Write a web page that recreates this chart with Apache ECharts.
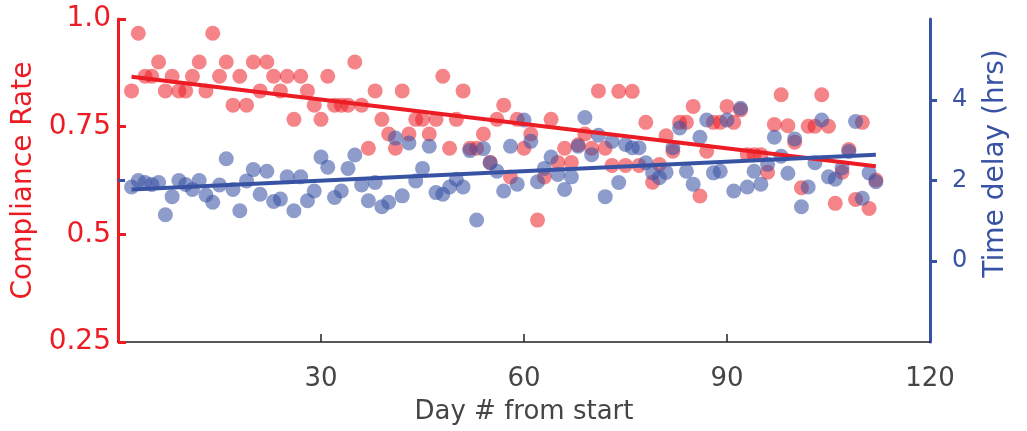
<!DOCTYPE html>
<html>
<head>
<meta charset="utf-8">
<script src="https://cdn.jsdelivr.net/npm/echarts@6/dist/echarts.min.js"></script>
<style>
  html, body { margin: 0; padding: 0; background: #fff; }
  #chart { width: 1027px; height: 431px; }
</style>
</head>
<body>
<div id="chart"></div>
<script>
// Day number of each observation
const days = [
  2, 3, 4, 5, 6, 7, 8, 9, 10, 11, 12, 13, 14, 15, 16, 17, 18, 19, 20, 21,
  22, 23, 24, 25, 26, 27, 28, 29, 30, 31, 32, 33, 34, 35, 36, 37, 38, 39, 40, 41,
  42, 43, 44, 45, 46, 47, 48, 49, 50, 51, 52, 53, 54, 55, 56, 57, 58, 59, 60, 61,
  62, 63, 64, 65, 66, 67, 68, 69, 70, 71, 72, 73, 74, 75, 76, 77, 78, 79, 80, 81,
  82, 83, 84, 85, 86, 87, 88, 89, 90, 91, 92, 93, 94, 95, 96, 97, 98, 99, 100, 101,
  102, 103, 104, 105, 106, 107, 108, 109, 110, 111, 112
];

// Daily compliance rate (left axis)
const compliance = [
  0.833, 0.967, 0.867, 0.867, 0.900, 0.833, 0.867, 0.833, 0.833, 0.867,
  0.900, 0.833, 0.967, 0.867, 0.900, 0.800, 0.867, 0.800, 0.900, 0.833,
  0.900, 0.867, 0.833, 0.867, 0.767, 0.867, 0.833, 0.800, 0.767, 0.867,
  0.800, 0.800, 0.800, 0.900, 0.800, 0.700, 0.833, 0.767, 0.733, 0.700,
  0.833, 0.733, 0.767, 0.767, 0.733, 0.767, 0.867, 0.700, 0.767, 0.833,
  0.700, 0.700, 0.733, 0.667, 0.767, 0.800, 0.633, 0.767, 0.700, 0.733,
  0.533, 0.633, 0.767, 0.667, 0.700, 0.667, 0.708, 0.733, 0.700, 0.833,
  0.700, 0.660, 0.832, 0.660, 0.832, 0.660, 0.760, 0.621, 0.662, 0.729,
  0.693, 0.760, 0.760, 0.797, 0.589, 0.693, 0.760, 0.760, 0.797, 0.760,
  0.789, 0.685, 0.685, 0.685, 0.644, 0.755, 0.824, 0.752, 0.714, 0.608,
  0.751, 0.751, 0.824, 0.751, 0.572, 0.644, 0.697, 0.581, 0.760, 0.560,
  0.626
];

// Daily time delay in hours (right axis)
const delay = [
  1.84, 2.00, 1.95, 1.90, 1.95, 1.15, 1.60, 2.00, 1.90, 1.78,
  2.00, 1.64, 1.46, 1.89, 2.54, 1.78, 1.25, 1.99, 2.27, 1.66,
  2.23, 1.48, 1.54, 2.09, 1.25, 2.09, 1.50, 1.74, 2.58, 2.33,
  1.58, 1.74, 2.30, 2.63, 1.89, 1.50, 1.95, 1.35, 1.46, 3.05,
  1.62, 2.93, 1.99, 2.30, 2.85, 1.70, 1.66, 1.84, 2.03, 1.84,
  2.74, 1.02, 2.79, 2.44, 2.23, 1.74, 2.85, 1.91, 3.50, 2.97,
  1.97, 2.30, 2.58, 2.15, 1.78, 2.09, 2.85, 3.56, 2.64, 3.12,
  1.60, 2.97, 1.95, 2.89, 2.81, 2.81, 2.44, 2.19, 2.07, 2.20,
  2.81, 3.30, 2.23, 1.91, 3.07, 3.50, 2.19, 2.23, 3.50, 1.74,
  3.79, 1.84, 2.23, 1.91, 2.40, 3.07, 2.60, 2.18, 3.03, 1.35,
  1.84, 2.44, 3.50, 2.09, 2.03, 2.31, 2.72, 3.46, 1.56, 2.19,
  1.97
];

// Linear trend end points
const trendDays = [2, 112];
const complianceTrend = [0.866, 0.658];
const delayTrend = [1.78, 2.64];

// Axis ticks and labels
const xTickValues = [30, 60, 90];
const xLabelValues = [30, 60, 90, 120];
const complianceTicks = [0.25, 0.5, 0.75, 1.0];
const delayTicks = [0, 2, 4];

const RED = '#ec1c24';
const BLUE = '#3953a4';
const GREY = '#454545';
const FONT = '"DejaVu Sans", Verdana, sans-serif';

const chart = echarts.init(document.getElementById('chart'), null, { renderer: 'canvas' });

chart.setOption({
  animation: false,
  backgroundColor: '#fff',
  grid: { left: 118, right: 97, top: 19, bottom: 89 },
  xAxis: {
    type: 'value',
    min: 0,
    max: 120,
    axisLine: { onZero: false, lineStyle: { color: '#222', width: 1.5 } },
    axisTick: { inside: true, length: 8, customValues: xTickValues, lineStyle: { color: '#222', width: 1.5 } },
    axisLabel: { customValues: xLabelValues, color: GREY, fontSize: 26, margin: 24, fontFamily: FONT },
    splitLine: { show: false },
    name: 'Day # from start',
    nameLocation: 'middle',
    nameGap: 57,
    nameTextStyle: { color: GREY, fontSize: 26, fontFamily: FONT }
  },
  yAxis: [
    {
      type: 'value',
      position: 'left',
      min: 0.25,
      max: 1.0,
      axisLine: { show: true, onZero: false, lineStyle: { color: RED, width: 3 } },
      axisTick: { show: true, inside: true, length: 8, customValues: complianceTicks, lineStyle: { color: RED, width: 3 } },
      axisLabel: {
        customValues: complianceTicks,
        color: RED,
        fontSize: 28,
        margin: 7,
        fontFamily: FONT,
        formatter: v => (v === 1 ? '1.0' : String(v))
      },
      splitLine: { show: false },
      name: 'Compliance Rate',
      nameLocation: 'middle',
      nameRotate: 90,
      nameGap: 78,
      nameTextStyle: { color: RED, fontSize: 28, fontFamily: FONT }
    },
    {
      type: 'value',
      position: 'right',
      min: -2,
      max: 6,
      axisLine: { show: true, onZero: false, lineStyle: { color: BLUE, width: 3 } },
      axisTick: { show: true, inside: false, length: 7, customValues: delayTicks, lineStyle: { color: BLUE, width: 3 } },
      axisLabel: { customValues: delayTicks, color: BLUE, fontSize: 24, margin: 22, fontFamily: FONT },
      splitLine: { show: false },
      name: 'Time delay (hrs)',
      nameLocation: 'middle',
      nameRotate: 90,
      nameGap: 52,
      nameTextStyle: { color: BLUE, fontSize: 28, fontFamily: FONT, padding: [0, 0, 0, 34] }
    },
    {
      // mirrored delay tick on the left spine
      type: 'value',
      position: 'left',
      min: -2,
      max: 6,
      axisLine: { show: false, onZero: false },
      axisTick: { show: true, inside: true, length: 7, customValues: [2], lineStyle: { color: BLUE, width: 3 } },
      axisLabel: { show: false },
      splitLine: { show: false }
    }
  ],
  series: [
    {
      name: 'Compliance Rate',
      type: 'scatter',
      yAxisIndex: 0,
      symbol: 'circle',
      symbolSize: 15,
      itemStyle: { color: 'rgba(236,28,36,0.68)' },
      emphasis: { disabled: true },
      data: days.map((d, i) => [d, compliance[i]]),
      z: 2
    },
    {
      name: 'Time delay',
      type: 'scatter',
      yAxisIndex: 1,
      symbol: 'circle',
      symbolSize: 15,
      itemStyle: { color: 'rgba(57,83,164,0.72)' },
      emphasis: { disabled: true },
      data: days.map((d, i) => [d, delay[i]]),
      z: 3
    },
    {
      name: 'Compliance trend',
      type: 'line',
      yAxisIndex: 0,
      showSymbol: false,
      lineStyle: { color: RED, width: 4, cap: 'butt' },
      emphasis: { disabled: true },
      data: trendDays.map((d, i) => [d, complianceTrend[i]]),
      z: 4
    },
    {
      name: 'Delay trend',
      type: 'line',
      yAxisIndex: 1,
      showSymbol: false,
      lineStyle: { color: BLUE, width: 4, cap: 'butt' },
      emphasis: { disabled: true },
      data: trendDays.map((d, i) => [d, delayTrend[i]]),
      z: 5
    }
  ]
});
</script>
</body>
</html>
